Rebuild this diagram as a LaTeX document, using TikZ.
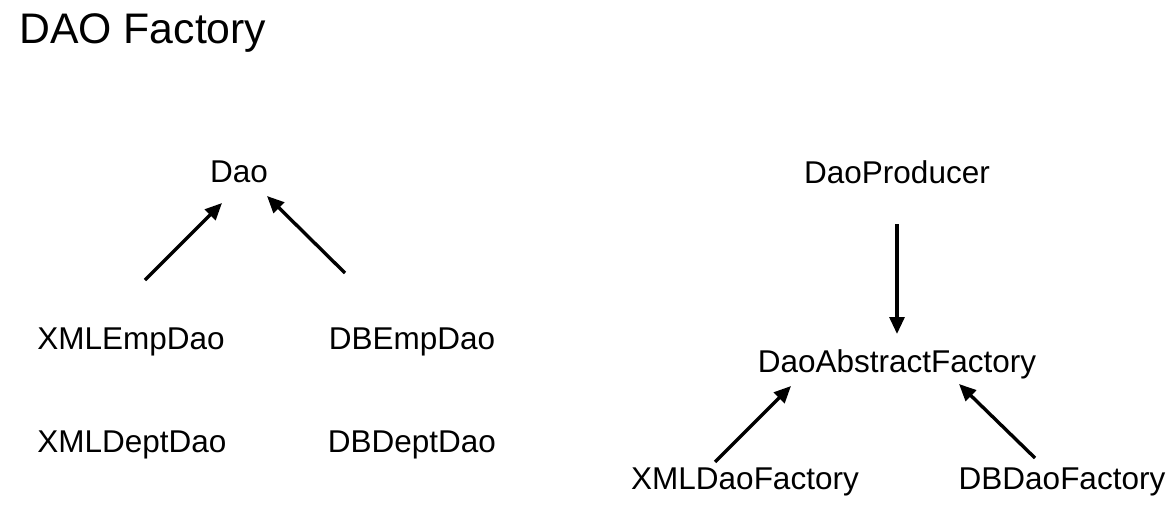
\documentclass[tikz,border=0pt]{standalone}
\usepackage{fontspec}
\setmainfont{Liberation Sans}
\usetikzlibrary{arrows.meta}

\begin{document}
\begin{tikzpicture}[
	x=0.025cm, y=-0.025cm,
	l/.style = {inner sep=0pt, font=\fontsize{22.4}{27}\selectfont},
	h/.style = {inner sep=0pt, anchor=west, font=\fontsize{30.4}{36}\selectfont},
	r/.style = {-{Triangle[length=12pt, width=10.5pt]}, line width=2.4pt}
	]
	
	\useasboundingbox (0, 0) rectangle (1172, 526);
	
	% ===== ===== ===== ===== =====
	
	% Nodes
	\node[h]	(title)	at	(19, 33)	{DAO Factory};
	
	\node[l]	(dao)	at	(239, 172)	{Dao};
	\node[l]	(xmlemp)	at	(131, 342)	{XMLEmpDao};
	\node[l]	(dbemp)	at	(412, 342)	{DBEmpDao};
	\node[l]	(xmldept)	at	(132, 445)	{XMLDeptDao};
	\node[l]	(dbdept)	at	(412, 445)	{DBDeptDao};
	
	\coordinate	(a1)	at	(145, 280);
	\coordinate	(a2)	at	(222, 203);
	\coordinate	(b1)	at	(345, 273);
	\coordinate	(b2)	at	(267, 196);
	
	% Lines
	\draw[r]	(a1)	--	(a2);
	\draw[r]	(b1)	--	(b2);
	
	
	
	
	
	% ===== ===== ===== ===== =====
	
	% Nodes
	\node[l]	(prod)	at	(897, 172)	{DaoProducer};
	\node[l]	(abs)	at	(897, 364)	{DaoAbstractFactory};
	\node[l]	(xmlf)	at	(745, 482)	{XMLDaoFactory};
	\node[l]	(dbf)	at	(1062, 482)	{DBDaoFactory};
	
	\coordinate	(c1)	at	(897, 224);
	\coordinate	(c2)	at	(897, 334);
	\coordinate	(d1)	at	(715, 462);
	\coordinate	(d2)	at	(791, 386);
	\coordinate	(e1)	at	(1035, 458);
	\coordinate	(e2)	at	(959, 384);
	
	% Lines
	\draw[r]	(c1)	--	(c2);
	\draw[r]	(d1)	--	(d2);
	\draw[r]	(e1)	--	(e2);
	
\end{tikzpicture}
\end{document}
